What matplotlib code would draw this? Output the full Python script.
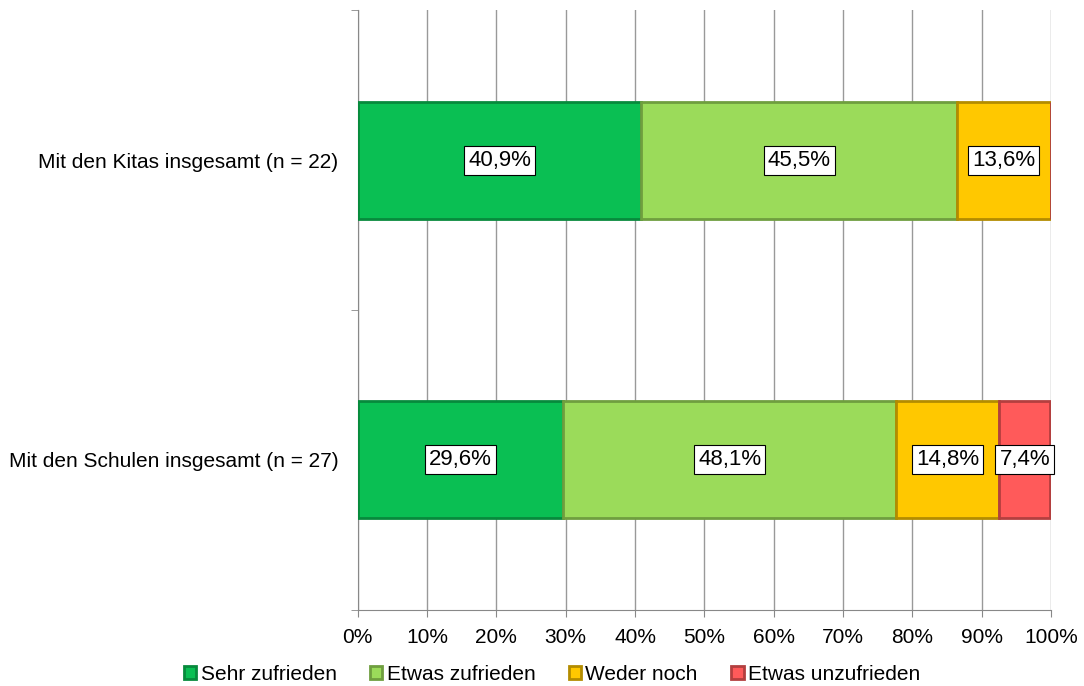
import matplotlib.pyplot as plt
import numpy as np

plt.rcParams['font.family'] = ['Liberation Sans', 'DejaVu Sans']

# daten
kategorien = ["Mit den Schulen insgesamt (n = 27)", "Mit den Kitas insgesamt (n = 22)"]
serien = ["Sehr zufrieden", "Etwas zufrieden", "Weder noch", "Etwas unzufrieden"]
sehr_zufrieden = [29.6, 40.9]
etwas_zufrieden = [48.1, 45.5]
weder_noch = [14.8, 13.6]
etwas_unzufrieden = [7.4, 0.0]

farben = ["#0abf53", "#9bdb5a", "#ffc800", "#ff5a5a"]
kanten = ["#078a3c", "#6f9e3f", "#b38c00", "#b33f3f"]

werte = [sehr_zufrieden, etwas_zufrieden, weder_noch, etwas_unzufrieden]

fig = plt.figure(figsize=(10.84, 6.86), dpi=100)
ax = fig.add_axes([0.330, 0.1108, 0.6396, 0.8746])

y = np.arange(len(kategorien))
links = np.zeros(len(kategorien))
for name, w, f, k in zip(serien, werte, farben, kanten):
    w = np.array(w)
    ax.barh(y, w, left=links, height=0.39, color=f, edgecolor=k, linewidth=2,
            label=name, zorder=3)
    for yi, li, wi in zip(y, links, w):
        if wi > 0:
            ax.text(li + wi / 2, yi, f"{wi:.1f}%".replace(".", ","), ha="center",
                    va="center", fontsize=16, zorder=4,
                    bbox=dict(boxstyle="square,pad=0.18", fc="white", ec="black", lw=0.8))
    links += w

ax.set_xlim(0, 100)
ax.set_ylim(-0.5, 1.5)
ax.set_xticks(np.arange(0, 101, 10))
ax.set_xticklabels([f"{v}%" for v in range(0, 101, 10)], fontsize=15)
ax.set_yticks(y)
ax.set_yticklabels(kategorien, fontsize=15)
ax.set_yticks([-0.5, 0.5, 1.5], minor=True)
ax.tick_params(axis="y", which="major", length=0, pad=14)
ax.tick_params(axis="y", which="minor", length=5, color="#888888")
ax.tick_params(axis="x", length=5, color="#888888", pad=8)
ax.grid(axis="x", color="#999999", linewidth=1, zorder=0)
for s in ["top", "right"]:
    ax.spines[s].set_visible(False)
ax.spines["left"].set_color("#888888")
ax.spines["bottom"].set_color("#888888")

handles, labels = ax.get_legend_handles_labels()
fig.legend(handles, labels, loc="center", bbox_to_anchor=(552 / 1084, 12 / 686), ncol=4,
           frameon=False, fontsize=15, handlelength=0.6, handleheight=0.6,
           handletextpad=0.2, columnspacing=1.6, borderpad=0)

fig.savefig("out.png", dpi=100)
